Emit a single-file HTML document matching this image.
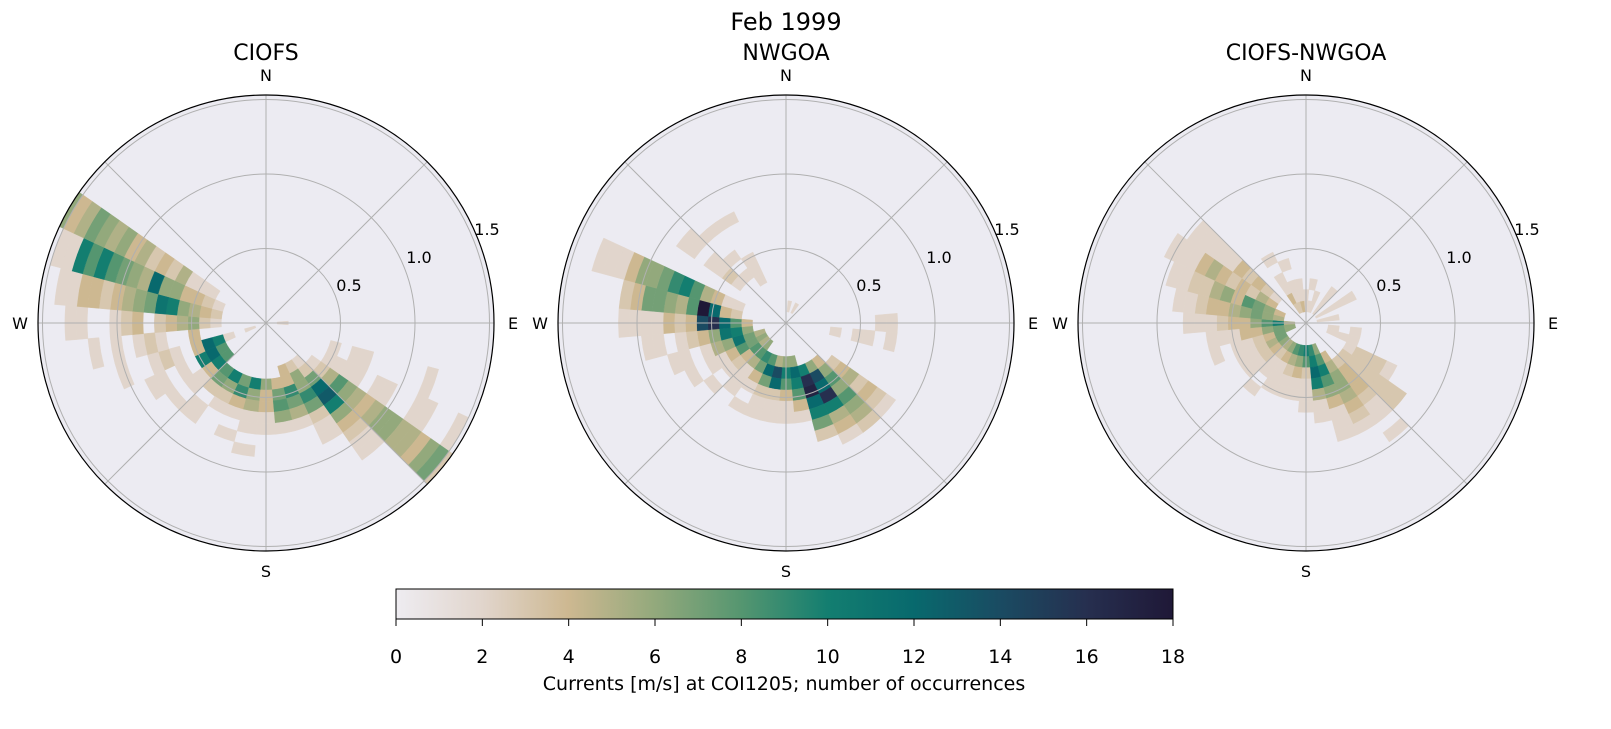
<!DOCTYPE html>
<html><head><meta charset="utf-8"><style>
body{margin:0;background:#fff;}
svg text{font-family:"DejaVu Sans","Liberation Sans",sans-serif;}
</style></head><body>
<svg id="s" width="1611" height="724" xmlns="http://www.w3.org/2000/svg">
<defs><linearGradient id="cb" x1="0" x2="1" y1="0" y2="0">
<stop offset="0" stop-color="#eeecf1"/><stop offset="0.111" stop-color="#e1d5cc"/><stop offset="0.222" stop-color="#cdb891"/><stop offset="0.333" stop-color="#93a97c"/><stop offset="0.444" stop-color="#559670"/><stop offset="0.556" stop-color="#137e70"/><stop offset="0.667" stop-color="#08696d"/><stop offset="0.778" stop-color="#1a4b62"/><stop offset="0.889" stop-color="#262f4f"/><stop offset="1" stop-color="#1f1837"/></linearGradient></defs>
<text x="786" y="30" font-size="24" text-anchor="middle">Feb 1999</text>
<g id="g"></g>
<rect x="396" y="589" width="777" height="30" fill="url(#cb)" stroke="#000" stroke-width="1"/>
<g font-size="19" text-anchor="middle" id="cbt"></g>
<text x="784" y="690" font-size="19" text-anchor="middle">Currents [m/s] at COI1205; number of occurrences</text>
</svg>
<script>
var stops=[[0,[238,236,241]],[2,[225,213,204]],[4,[205,184,145]],[6,[147,169,124]],[8,[85,150,112]],[10,[19,126,112]],[12,[8,105,109]],[14,[26,75,98]],[16,[38,47,79]],[18,[31,24,55]]];
function col(v){for(var i=0;i<stops.length-1;i++){if(v<=stops[i+1][0]){var t=(v-stops[i][0])/2,a=stops[i][1],b=stops[i+1][1];return 'rgb('+a.map(function(x,j){return Math.round(x+(b[j]-x)*t)}).join(',')+')';}}return 'rgb(31,24,55)';}
var D=[
{t:"CIOFS",d:{300:[5,2,2,2,5,3,4,3,5,4,6,5,6,7,5,4,6],290:[4,2,3,4,4,6,6,12,5,6,7,8,10,8,10,2,2],280:[4,3,4,5,6,10,11,7,6,5,4,3,4,4,2,2],270:[4,2,3,6,5,4,3,0,4,3,2,0,0,2,2],260:[6,4,0,0,2,3,2,0,2,0,2],250:[3,2,10,12,4,0,2,3,2,0,0,2],240:[4,8,12,10,0,2,0,2,2],230:[4,8,10,4,2,2,0,2],220:[5,8,7,3,0,2,2],210:[5,10,6,3,2],200:[5,7,9,4,2,0,2],190:[5,10,6,5,2,2,0,2],180:[5,6,4,4,2,2],170:[5,4,7,8,6,2],160:[4,4,4,9,7,5,2],150:[4,3,6,6,9,7,3,2,2],140:[4,2,3,7,12,13,10,6,4,3,2,2],130:[5,2,3,5,8,6,5,4,5,6,6,5,5,4,6,7,3,2],120:[6,2,2,2,2,0,2,2,0,0,2,2,0,0,2],110:[6,2,0,2,2,0,0,0,0,0,2],90:[1,2],250.1:[1,2]}},
{t:"NWGOA",d:{290:[4,2,2,4,5,8,10,9,7,6,6,4,2,2,2],280:[4,3,4,12,18,8,5,6,7,7,4,3],270:[3,4,8,12,16,14,4,3,4,2,2,2,2],260:[3,6,10,11,6,4,3,2,0,2,2],250:[2,5,7,11,6,5,2,0,2,2],240:[2,6,7,8,4,2,2,0,2],230:[2,5,8,4,3,2,0,2],220:[2,6,8,5,2,2,2],210:[3,9,7,4,2,0,2],200:[3,8,12,7,3,2,2],190:[3,5,14,12,3,2,2],180:[3,6,10,8,4,2,2],170:[3,6,12,10,8,4,2],160:[4,10,16,17,12,10,7,3],150:[4,6,14,12,16,10,5,4,2],140:[4,4,6,8,6,8,6,5,3],130:[5,3,4,5,3,4,3,2],310:[5,2,3,2,2,0,2,2],320:[5,2,0,2,0,0,2],330:[4,2,2,2,0,0,0,2],100:[4,2,0,2,2,0,2],90:[8,2,2],10:[1,2],30:[1,2]}},
{t:"CIOFS-NWGOA",d:{310:[3,2,3,4,3,4,2,2,2,2,2],300:[3,4,5,3,4,3,4,5,4,2,2,2],290:[2,4,6,7,8,4,6,5,3,3,2,2],280:[2,5,6,7,6,5,4,4,3,2,2],270:[1,5,10,8,6,4,4,3,2,2,2],260:[1,6,7,6,4,4,2,2,2],250:[1,6,7,4,3,2,2,0,2],240:[2,7,5,3,2,2],230:[2,6,4,3,2,2],220:[2,5,3,2,2,0,2],210:[2,6,4,2,2,2],200:[2,8,5,3,2,2],190:[2,9,6,4,2,2],180:[2,10,8,3,2,2,2],170:[2,9,10,12,10,5,2,2],160:[2,6,8,10,8,6,4,2,2,2],150:[3,4,5,6,6,5,4,3,2],140:[4,3,4,4,4,3,2,2,0,2],130:[4,3,3,3,3,3,3,3],120:[4,2,3,3,3,2],110:[2,2,2,2],100:[2,2,0,2],330:[1,3,4,2,2,0,2],340:[1,3,2,2,0,2],350:[1,4,2,2],0:[1,2,2],10:[1,2,0,2],20:[1,2,2],40:[1,2,2,2],60:[1,2,2,2,2],80:[1,2,2]}}];
var g=document.getElementById('g'),h='';
var R=228,S=149,dr=0.075*S;
function pt(cx,cy,r,a){a=a*Math.PI/180;return (cx+r*Math.sin(a)).toFixed(1)+','+(cy-r*Math.cos(a)).toFixed(1);}
D.forEach(function(p,i){var cx=266+520*i,cy=323;
h+='<text x="'+cx+'" y="60" font-size="22" text-anchor="middle">'+p.t+'</text>';
h+='<circle cx="'+cx+'" cy="'+cy+'" r="'+R+'" fill="#ecebf2"/>';
for(var k in p.d){var arr=p.d[k],a=Math.round(parseFloat(k)),st=arr[0];
for(var j=1;j<arr.length;j++){var v=arr[j];if(!v)continue;var b=st+j-1;var r1=b*dr,r2=Math.min((b+1)*dr,R);if(r1>=R)continue;
var a1=a-5,a2=a+5;h+='<path d="M'+pt(cx,cy,r1,a1)+' A'+r1+','+r1+' 0 0 1 '+pt(cx,cy,r1,a2)+' L'+pt(cx,cy,r2,a2)+' A'+r2+','+r2+' 0 0 0 '+pt(cx,cy,r2,a1)+'Z" fill="'+col(v)+'" stroke="'+col(v)+'" stroke-width="0.4"/>';}}
[0.5,1,1.5].forEach(function(r){h+='<circle cx="'+cx+'" cy="'+cy+'" r="'+r*S+'" fill="none" stroke="#b0b0b0" stroke-width="1"/>';});
for(var a=0;a<360;a+=45)h+='<line x1="'+cx+'" y1="'+cy+'" x2="'+pt(cx,cy,R,a).split(',')[0]+'" y2="'+pt(cx,cy,R,a).split(',')[1]+'" stroke="#b0b0b0" stroke-width="1"/>';
h+='<circle cx="'+cx+'" cy="'+cy+'" r="'+R+'" fill="none" stroke="#000" stroke-width="1.2"/>';
h+='<g font-size="16" text-anchor="middle"><text x="'+cx+'" y="81">N</text><text x="'+cx+'" y="577">S</text><text x="'+(cx-246)+'" y="329">W</text><text x="'+(cx+247)+'" y="329">E</text>';
h+='<text x="'+(cx+83)+'" y="291">0.5</text><text x="'+(cx+153)+'" y="263">1.0</text><text x="'+(cx+221)+'" y="235">1.5</text></g>';
});
g.innerHTML=h;
var t='';for(var v=0;v<=18;v+=2){var x=396+777*v/18;t+='<line x1="'+x+'" y1="619" x2="'+x+'" y2="626" stroke="#000"/><text x="'+x+'" y="663">'+v+'</text>';}
document.getElementById('cbt').innerHTML=t;
</script>
</body></html>
